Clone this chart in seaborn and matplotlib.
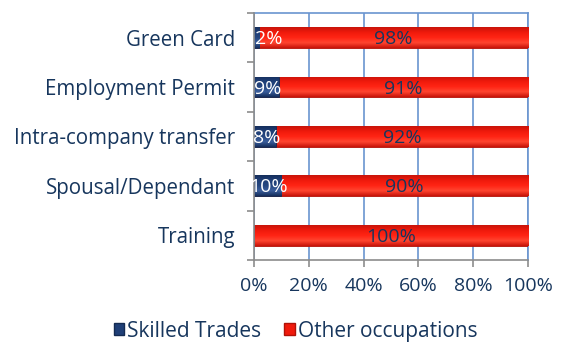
import matplotlib
matplotlib.use("Agg")
import matplotlib.pyplot as plt
import seaborn as sns
import pandas as pd
import numpy as np
from matplotlib.patches import Patch
from matplotlib.colors import LinearSegmentedColormap

categories = ["Green Card", "Employment Permit", "Intra-company transfer",
              "Spousal/Dependant", "Training"]
skilled = [2, 9, 8, 10, 0]
other = [98, 91, 92, 90, 100]
xticks = [0, 20, 40, 60, 80, 100]

NAVY = "#17365D"
RED = "#F01A0C"
BLUE = "#1F3F77"
GRID = "#6A95CF"
AXIS = "#8C8C8C"

sns.set_theme(style="white")
plt.rcParams["font.family"] = ["Open Sans", "DejaVu Sans"]

df = pd.DataFrame({"cat": categories, "skilled": skilled, "other": other})
df["total"] = df["skilled"] + df["other"]

fig = plt.figure(figsize=(5.63, 3.42), dpi=100)
ax = fig.add_axes([0.451, 0.240, 0.487, 0.722])

sns.barplot(data=df, y="cat", x="total", color=RED, orient="h", width=0.42,
            edgecolor="#B01208", linewidth=0.6, saturation=1, ax=ax, zorder=3)
n_red = len(ax.patches)
sns.barplot(data=df, y="cat", x="skilled", color=BLUE, orient="h", width=0.42,
            edgecolor="#142B52", linewidth=0.6, saturation=1, ax=ax, zorder=4)

# glossy vertical shading on every bar
red_cmap = LinearSegmentedColormap.from_list(
    "redgloss", ["#C8140A", "#FF4530", "#FF2414", "#F01A0C", "#C8140A"])
blue_cmap = LinearSegmentedColormap.from_list(
    "bluegloss", ["#152E5C", "#3A5E9C", "#25467F", "#1F3F77", "#152E5C"])
grad = np.linspace(0, 1, 64).reshape(-1, 1)
for k, p in enumerate(list(ax.patches)):
    w = p.get_width()
    if w <= 0:
        continue
    x0, y0, h = p.get_x(), p.get_y(), p.get_height()
    cmap = red_cmap if k < n_red else blue_cmap
    im = ax.imshow(grad, cmap=cmap, aspect="auto", interpolation="bilinear",
                   extent=(x0, x0 + w, y0, y0 + h), origin="upper",
                   zorder=p.get_zorder() + 0.1)
    im.set_clip_path(p)

for i, row in df.iterrows():
    if row["skilled"] > 0:
        if row["skilled"] < 6:
            ax.text(0.3, i + 0.03, f"{row['skilled']}%", color="white",
                    ha="left", va="center", fontsize=14, zorder=8)
        else:
            ax.text(row["skilled"] / 2 + 0.5, i + 0.03, f"{row['skilled']}%",
                    color="white", ha="center", va="center", fontsize=14,
                    zorder=8)
    ax.text(row["skilled"] + row["other"] / 2, i + 0.03, f"{row['other']}%",
            color=NAVY, ha="center", va="center", fontsize=14, zorder=8)

ax.set_xlim(0, 100)
ax.set_ylim(len(categories) - 0.5, -0.5)
ax.set_xticks(xticks)
ax.set_xticklabels([f"{v}%" for v in xticks])
ax.set_xlabel("")
ax.set_ylabel("")
ax.xaxis.grid(True, color=GRID, linewidth=1.2)
ax.yaxis.grid(False)
ax.set_axisbelow(True)

for s in ["top", "right"]:
    ax.spines[s].set_color(GRID)
    ax.spines[s].set_linewidth(1.2)
for s in ["left", "bottom"]:
    ax.spines[s].set_color(AXIS)
    ax.spines[s].set_linewidth(1.2)
    ax.spines[s].set_zorder(7)

ax.set_yticks(range(len(categories)))
ax.set_yticklabels(categories)
ax.set_yticks([i - 0.5 for i in range(len(categories) + 1)], minor=True)
ax.tick_params(axis="y", which="major", length=0, pad=13.5, labelsize=14.8,
               labelcolor=NAVY)
ax.tick_params(axis="y", which="minor", length=5, color=AXIS, width=1.2,
               left=True)
ax.tick_params(axis="x", length=5, color=AXIS, width=1.2, labelsize=14,
               labelcolor=NAVY, pad=7, bottom=True)

handles = [Patch(facecolor=BLUE, edgecolor="#142B52", label="Skilled Trades"),
           Patch(facecolor=RED, edgecolor="#B01208", label="Other occupations")]
fig.legend(handles=handles, loc="center", bbox_to_anchor=(0.525, 0.032), ncol=2,
           frameon=False, fontsize=15, handlelength=0.5, handleheight=0.5,
           handletextpad=0.15, columnspacing=1.1, labelcolor=NAVY)

fig.savefig("out.png", dpi=100)
